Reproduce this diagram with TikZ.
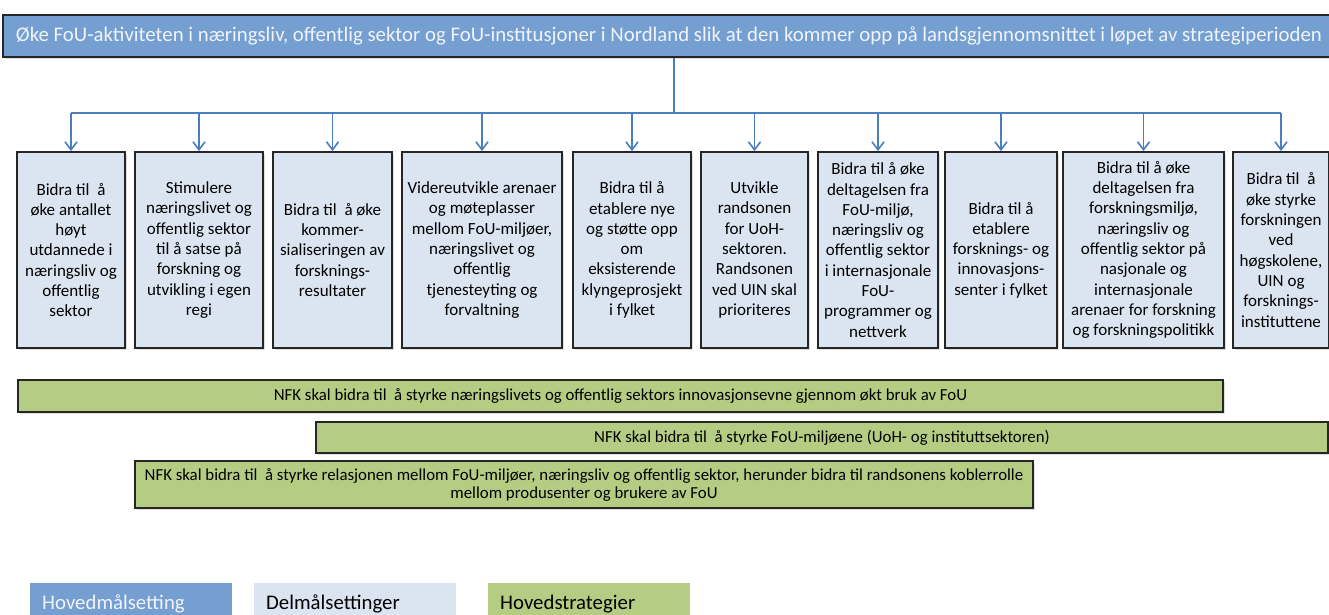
\documentclass[tikz,border=0pt]{standalone}
\usepackage{fontspec}
\setmainfont{Carlito}
\usetikzlibrary{arrows.meta,shadows}
\definecolor{topblue}{RGB}{117,158,209}
\definecolor{subblue}{RGB}{219,229,241}
\definecolor{stratgreen}{RGB}{181,204,131}
\definecolor{linkblue}{RGB}{74,126,190}
\definecolor{edgegray}{RGB}{38,38,38}
\definecolor{lighttext}{RGB}{240,244,250}

\begin{document}
\begin{tikzpicture}[x=1pt,y=-1pt,>={Straight Barb[length=8pt,width=12pt]},
    boxshadow/.style={drop shadow={shadow xshift=1.5pt,shadow yshift=-1.5pt,opacity=0.25}},
    goal/.style={draw=edgegray,line width=1.8pt,fill=subblue,inner sep=0pt,align=center,
        minimum height=196pt,font=\fontsize{17}{20.3}\selectfont,boxshadow},
    strat/.style={draw=edgegray,line width=1.8pt,fill=stratgreen,inner sep=0pt,align=center,
        font=\fontsize{16.8}{18}\selectfont,boxshadow},
    key/.style={anchor=north west,minimum height=42pt,inner xsep=12pt,inner ysep=0pt,
        text width=178pt,align=left,font=\fontsize{20.8}{24}\selectfont},
    link/.style={linkblue,line width=1.6pt}]
    \path[use as bounding box,clip] (0,0) rectangle (1329,614);

    % hovedmaal
    \node[draw=edgegray,line width=1.8pt,fill=topblue,text=lighttext,minimum width=1332pt,
        minimum height=42pt,inner sep=0pt,font=\fontsize{20.8}{24}\selectfont,boxshadow]
        (top) at (669,36) {Øke FoU-aktiviteten i næringsliv, offentlig sektor og FoU-institusjoner i Nordland slik at den kommer opp på landsgjennomsnittet i løpet av strategiperioden};

    % delmaal
    \node[goal,minimum width=108pt] (b1) at (71,250) {Bidra til\ \ å\\øke antallet\\høyt\\utdannede i\\næringsliv og\\offentlig\\sektor};
    \node[goal,minimum width=128pt] (b2) at (199,250) {Stimulere\\næringslivet og\\offentlig sektor\\til å satse på\\forskning og\\utvikling i egen\\regi};
    \node[goal,minimum width=119pt] (b3) at (332.5,250) {Bidra til\ \ å øke\\kommer-\\sialiseringen av\\forsknings-\\resultater};
    \node[goal,minimum width=160pt] (b4) at (482,250) {Videreutvikle arenaer\\og møteplasser\\mellom FoU-miljøer,\\næringslivet og\\offentlig\\tjenesteyting og\\forvaltning};
    \node[goal,minimum width=118pt] (b5) at (632,250) {Bidra til å\\etablere nye\\og støtte opp\\om\\eksisterende\\klyngeprosjekt\\i fylket};
    \node[goal,minimum width=107pt] (b6) at (754.5,250) {Utvikle\\randsonen\\for UoH-\\sektoren.\\Randsonen\\ved UIN skal\\prioriteres};
    \node[goal,minimum width=120pt] (b7) at (878,250) {Bidra til å øke\\deltagelsen fra\\FoU-miljø,\\næringsliv og\\offentlig sektor\\i internasjonale\\FoU-\\programmer og\\nettverk};
    \node[goal,minimum width=112pt] (b8) at (1001,250) {Bidra til å\\etablere\\forsknings- og\\innovasjons-\\senter i fylket};
    \node[goal,minimum width=161pt] (b9) at (1143.5,250) {Bidra til å øke\\deltagelsen fra\\forskningsmiljø,\\næringsliv og\\offentlig sektor på\\nasjonale og\\internasjonale\\arenaer for forskning\\og forskningspolitikk};
    \node[goal,minimum width=96pt] (b10) at (1281,250) {Bidra til\ \ å\\øke styrke\\forskningen\\ved\\høgskolene,\\UIN og\\forsknings-\\instituttene};

    % piler
    \coordinate (hub) at (674,113);
    \draw[link] (top.south -| hub) -- (hub);
    \draw[link] (b1.north |- hub) -- (b10.north |- hub);
    \foreach \i in {1,...,10}
        \draw[link,->] (b\i.north |- hub) -- (b\i.north);

    % hovedstrategier
    \node[strat,minimum width=1205pt,minimum height=32pt] (s1) at (620.5,396) {NFK skal bidra til\ \ å styrke næringslivets og offentlig sektors innovasjonsevne gjennom økt bruk av FoU};
    \node[strat,minimum width=1012pt,minimum height=31pt] (s2) at (822,437.5) {NFK skal bidra til\ \ å styrke FoU-miljøene (UoH- og instituttsektoren)};
    \node[strat,minimum width=898pt,minimum height=47pt] (s3) at (584,484.5) {NFK skal bidra til\ \ å styrke relasjonen mellom FoU-miljøer, næringsliv og offentlig sektor, herunder bidra til randsonens koblerrolle\\mellom produsenter og brukere av FoU};

    % forklaring
    \node[key,fill=topblue,text=lighttext] (k1) at (30,583) {Hovedmålsetting};
    \node[key,fill=subblue] (k2) at (254,583) {Delmålsettinger};
    \node[key,fill=stratgreen] (k3) at (488,583) {Hovedstrategier};
\end{tikzpicture}
\end{document}
